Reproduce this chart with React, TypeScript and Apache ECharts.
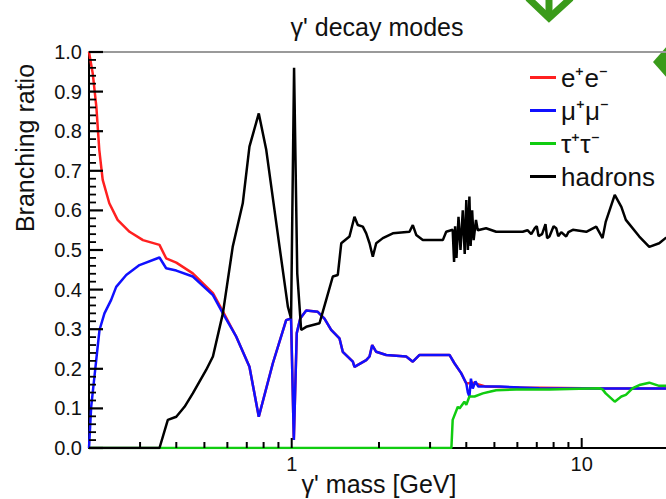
import React, { useEffect, useRef } from "react";
import * as echarts from "echarts";

// γ' mass [GeV] vs branching ratio
const eeData: [number, number][] = [
  [0.2, 1.0], [0.206, 0.946], [0.212, 0.862], [0.217, 0.753], [0.223, 0.677], [0.235, 0.618],
  [0.251, 0.576], [0.276, 0.546], [0.307, 0.525], [0.35, 0.513], [0.369, 0.479], [0.4, 0.468],
  [0.456, 0.441], [0.535, 0.391], [0.579, 0.345], [0.644, 0.281], [0.715, 0.205], [0.77, 0.079],
  [0.861, 0.214], [0.957, 0.323], [0.995, 0.327], [1.017, 0.02], [1.041, 0.29], [1.07, 0.327],
  [1.122, 0.347], [1.23, 0.344], [1.297, 0.327], [1.368, 0.298], [1.461, 0.277], [1.5, 0.243],
  [1.625, 0.218], [1.646, 0.205], [1.807, 0.222], [1.855, 0.231], [1.895, 0.26], [1.956, 0.243],
  [2.118, 0.235], [2.482, 0.231], [2.616, 0.218], [2.76, 0.235], [3.5, 0.235], [3.64, 0.214],
  [3.84, 0.189], [4.0, 0.163], [4.21, 0.165], [4.68, 0.155], [6.1, 0.153], [12, 0.15], [20, 0.15],
];

const mumuData: [number, number][] = [
  [0.2, 0.0], [0.2035, 0.104], [0.2118, 0.222], [0.2174, 0.298], [0.2261, 0.34], [0.2385, 0.374],
  [0.2482, 0.407], [0.2688, 0.437], [0.2986, 0.462], [0.35, 0.481], [0.369, 0.454], [0.4, 0.448],
  [0.456, 0.433], [0.535, 0.386], [0.579, 0.34], [0.644, 0.281], [0.715, 0.205], [0.77, 0.079],
  [0.861, 0.214], [0.957, 0.323], [0.995, 0.327], [1.017, 0.02], [1.041, 0.29], [1.07, 0.327],
  [1.122, 0.347], [1.23, 0.344], [1.297, 0.327], [1.368, 0.298], [1.461, 0.277], [1.5, 0.243],
  [1.625, 0.218], [1.646, 0.205], [1.807, 0.222], [1.855, 0.231], [1.895, 0.26], [1.956, 0.243],
  [2.118, 0.235], [2.482, 0.231], [2.616, 0.218], [2.76, 0.235], [3.5, 0.235], [3.64, 0.214],
  [3.84, 0.189], [4.0, 0.163], [4.05, 0.14], [4.1, 0.13], [4.15, 0.175], [4.21, 0.15],
  [4.3, 0.168], [4.4, 0.155], [4.68, 0.155], [5.21, 0.155], [6.1, 0.153], [7.15, 0.151],
  [12, 0.15], [20, 0.15],
];

const tautauData: [number, number][] = [
  [0.2, 0], [3.554, 0], [3.59, 0.071], [3.74, 0.104], [3.79, 0.1], [3.94, 0.117], [4.0, 0.109],
  [4.1, 0.13], [4.21, 0.13], [4.27, 0.13], [4.56, 0.138], [4.81, 0.142], [5.07, 0.146],
  [5.94, 0.148], [7.74, 0.148], [11.5, 0.151], [11.8, 0.148], [12.1, 0.138], [13.0, 0.117],
  [13.7, 0.13], [14.2, 0.134], [15.0, 0.151], [15.8, 0.159], [17.1, 0.165], [18.5, 0.157],
  [20, 0.157],
];

const hadronsData: [number, number][] = [
  [0.2, 0], [0.35, 0], [0.374, 0.071], [0.4, 0.079], [0.427, 0.104], [0.456, 0.138],
  [0.507, 0.197], [0.535, 0.231], [0.579, 0.34], [0.626, 0.508], [0.678, 0.618], [0.715, 0.761],
  [0.77, 0.845], [0.817, 0.753], [0.908, 0.508], [0.97, 0.357], [0.995, 0.327], [1.019, 0.96],
  [1.045, 0.441], [1.078, 0.298], [1.122, 0.306], [1.247, 0.315], [1.315, 0.374], [1.386, 0.433],
  [1.442, 0.437], [1.482, 0.517], [1.582, 0.534], [1.646, 0.584], [1.69, 0.563], [1.759, 0.559],
  [1.807, 0.542], [1.855, 0.517], [1.904, 0.483], [1.956, 0.517], [2.062, 0.53], [2.232, 0.542],
  [2.548, 0.546], [2.616, 0.563], [2.688, 0.538], [2.832, 0.525], [3.32, 0.525], [3.41, 0.546],
  [3.59, 0.551], [3.63, 0.47], [3.66, 0.56], [3.7, 0.48], [3.76, 0.584], [3.82, 0.5],
  [3.89, 0.6], [3.95, 0.49], [4.0, 0.626], [4.05, 0.5], [4.1, 0.635], [4.14, 0.51],
  [4.19, 0.6], [4.24, 0.525], [4.32, 0.576], [4.38, 0.55], [4.68, 0.555], [5.07, 0.546],
  [6.26, 0.546], [6.5, 0.55], [6.7, 0.54], [6.9, 0.556], [7.0, 0.56], [7.1, 0.535],
  [7.3, 0.54], [7.5, 0.565], [7.6, 0.53], [7.74, 0.534], [8.0, 0.56], [8.17, 0.555],
  [8.3, 0.535], [8.5, 0.545], [8.84, 0.534], [9.0, 0.545], [9.32, 0.551], [10.37, 0.546],
  [11.22, 0.559], [11.8, 0.53], [12.1, 0.571], [13.0, 0.639], [13.7, 0.609], [14.2, 0.576],
  [15.8, 0.534], [17.1, 0.508], [18.5, 0.517], [19.45, 0.53], [20, 0.53],
];

const seriesNames = ["e⁺e⁻", "μ⁺μ⁻", "τ⁺τ⁻", "hadrons"];
const seriesColors = ["#ff2020", "#1010ff", "#10cc10", "#000000"];

// axis ticks
const X_MIN = 0.2;
const X_MAX = 20;
const xMajorTicks = [1, 10];
const xMinorTicks = [0.3, 0.4, 0.5, 0.6, 0.7, 0.8, 0.9, 2, 3, 4, 5, 6, 7, 8, 9];
const yMajorTicks = [0, 0.1, 0.2, 0.3, 0.4, 0.5, 0.6, 0.7, 0.8, 0.9, 1.0];
const yMinorSubdivisions = 5;

const FONT = '"Liberation Sans", Arial, Helvetica, sans-serif';

export default function App() {
  const ref = useRef<HTMLDivElement>(null);
  useEffect(() => {
    if (!ref.current) return;
    const chart = echarts.init(ref.current, undefined, { renderer: "svg" });
    const datasets = [eeData, mumuData, tautauData, hadronsData];
    const lineSeries: any[] = datasets.map((d, i) => ({
      name: seriesNames[i],
      type: "line",
      data: d,
      symbol: "none",
      showSymbol: false,
      silent: true,
      color: seriesColors[i],
      lineStyle: { color: seriesColors[i], width: 2.5 },
      itemStyle: { color: seriesColors[i] },
      z: 2 + i,
    }));

    // tick marks: [x, y, kind]; kind 0/1 = y major/minor (x value only a placeholder), 2/3 = x major/minor
    const tickData: number[][] = [];
    yMajorTicks.forEach((v) => tickData.push([1, v, 0]));
    for (let i = 0; i < yMajorTicks.length - 1; i++) {
      const a = yMajorTicks[i];
      const b = yMajorTicks[i + 1];
      for (let k = 1; k < yMinorSubdivisions; k++) {
        tickData.push([1, a + ((b - a) * k) / yMinorSubdivisions, 1]);
      }
    }
    xMajorTicks.forEach((v) => tickData.push([v, 0.5, 2]));
    xMinorTicks.forEach((v) => tickData.push([v, 0.5, 3]));

    const staticGraphics: any[] = [
      {
        type: "text",
        x: 377,
        y: 27,
        style: { text: "γ' decay modes", font: `25px ${FONT}`, fill: "#111", align: "center", verticalAlign: "middle" },
      },
      {
        type: "text",
        x: 25,
        y: 148,
        rotation: Math.PI / 2,
        style: { text: "Branching ratio", font: `25px ${FONT}`, fill: "#111", align: "center", verticalAlign: "middle" },
      },
      {
        type: "polyline",
        shape: { points: [[528, -2], [549, 18], [571, -2]] },
        style: { stroke: "#3a9b1a", lineWidth: 7, fill: "none" },
      },
      {
        type: "line",
        shape: { x1: 549, y1: 0, x2: 549, y2: 16 },
        style: { stroke: "#3a9b1a", lineWidth: 7 },
      },
      {
        type: "polygon",
        shape: { points: [[653, 62], [667, 46], [667, 78]] },
        style: { fill: "#3a9b1a" },
      },
    ];

    chart.setOption({
      animation: false,
      textStyle: { fontFamily: FONT },
      grid: {
        left: 89,
        top: 52,
        width: 580,
        height: 396,
        containLabel: false,
        outerBoundsMode: "none",
      },
      legend: {
        data: seriesNames,
        orient: "vertical",
        left: 525,
        top: 59,
        itemWidth: 26,
        itemHeight: 3,
        itemGap: 6,
        icon: "rect",
        selectedMode: false,
        textStyle: { fontSize: 26, lineHeight: 27, color: "#111", fontFamily: FONT },
      },
      xAxis: [
        {
          type: "log",
          logBase: 10,
          min: X_MIN,
          max: X_MAX,
          name: "γ' mass [GeV]",
          nameLocation: "middle",
          nameGap: 23,
          nameMoveOverlap: false,
          nameTextStyle: { fontSize: 25, color: "#111", fontFamily: FONT },
          axisLine: { show: true, onZero: false, lineStyle: { color: "#000", width: 2 } },
          axisTick: { show: false },
          axisLabel: {
            showMinLabel: false,
            showMaxLabel: false,
            fontSize: 20,
            color: "#111",
            margin: 6,
            fontFamily: FONT,
            formatter: (v: number) => String(Math.round(v * 1000) / 1000),
          },
          splitLine: { show: false },
        },
        {
          type: "value",
          position: "top",
          min: 0,
          max: 1,
          axisLine: { show: true, onZero: false, lineStyle: { color: "#9a9a9a", width: 2 } },
          axisTick: { show: false },
          axisLabel: { show: false },
          splitLine: { show: false },
        },
      ],
      yAxis: {
        type: "value",
        min: 0,
        max: 1,
        interval: 0.1,
        axisLine: { show: true, onZero: false, lineStyle: { color: "#000", width: 2 } },
        axisTick: { show: false },
        axisLabel: {
          fontSize: 20,
          color: "#111",
          margin: 7,
          fontFamily: FONT,
          formatter: (v: number) => v.toFixed(1),
        },
        splitLine: { show: false },
      },
      series: [
        ...lineSeries,
        {
          type: "custom",
          silent: true,
          clip: false,
          z: 20,
          data: tickData,
          renderItem: (params: any, api: any) => {
            const kind = api.value(2);
            const cs = params.coordSys;
            const p = api.coord([api.value(0), api.value(1)]);
            if (kind === 0 || kind === 1) {
              const len = kind === 0 ? 14 : 7;
              const h = kind === 0 ? 2.2 : 1.8;
              return {
                type: "rect",
                shape: { x: cs.x, y: p[1] - h / 2, width: len, height: h },
                style: { fill: "#000" },
              };
            }
            const len = kind === 2 ? 10 : 6;
            const base = cs.y + cs.height;
            return {
              type: "rect",
              shape: { x: p[0] - 1, y: base - len, width: 2, height: len },
              style: { fill: "#000" },
            };
          },
        },
      ],
      graphic: staticGraphics,
    });

    return () => chart.dispose();
  }, []);
  return (
    <div
      ref={ref}
      style={{ position: "fixed", left: 0, top: 0, width: 666, height: 499, background: "#fff" }}
    />
  );
}
